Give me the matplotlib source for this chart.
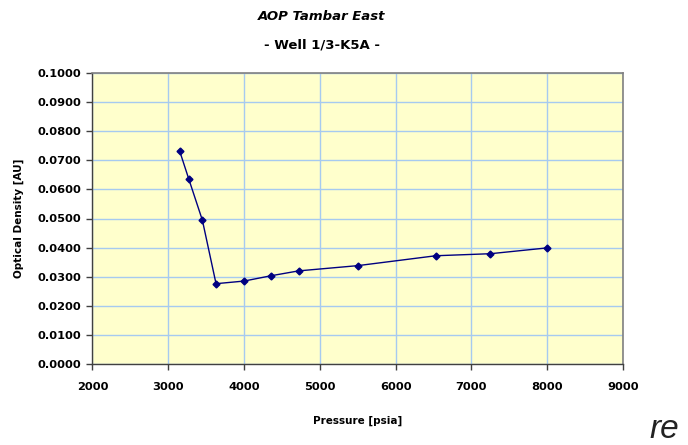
import numpy as np
import matplotlib
matplotlib.use("Agg")
import matplotlib.pyplot as plt

# readings
pressure = [3150, 3270, 3450, 3630, 4000, 4350, 4720, 5500, 6530, 7250, 8000]
optical_density = [0.0732, 0.0636, 0.0494, 0.0276, 0.0285, 0.0303, 0.0320,
                   0.0338, 0.0372, 0.0379, 0.0399]

x_ticks = [2000, 3000, 4000, 5000, 6000, 7000, 8000, 9000]
y_ticks = [0.0, 0.01, 0.02, 0.03, 0.04, 0.05, 0.06, 0.07, 0.08, 0.09, 0.1]

fig = plt.figure(figsize=(6.88, 4.45), dpi=100)
ax = fig.add_axes([92.5 / 688, 1 - 364 / 445, (623 - 92.5) / 688, (364 - 73) / 445])
ax.set_facecolor("#FFFFCC")

ax.plot(pressure, optical_density, color="#000080", linewidth=1.0,
        marker="D", markersize=3.5, markerfacecolor="#000080",
        markeredgecolor="#000080", zorder=3)

ax.set_xlim(2000, 9000)
ax.set_ylim(0, 0.1)
ax.set_xticks(x_ticks)
ax.set_yticks(y_ticks)
ax.set_xticklabels([str(v) for v in x_ticks])
ax.set_yticklabels([f"{v:.4f}" for v in y_ticks])
ax.grid(True, color="#A6CAF0", linewidth=1.0)
ax.set_axisbelow(True)

for side in ["top", "right"]:
    ax.spines[side].set_color("#808080")
    ax.spines[side].set_linewidth(1.2)
for side in ["left", "bottom"]:
    ax.spines[side].set_color("#404040")
    ax.spines[side].set_linewidth(1.0)

ax.tick_params(axis="both", direction="out", length=4, width=1,
               color="#404040", labelsize=8.2, pad=4)
for lab in ax.get_xticklabels() + ax.get_yticklabels():
    lab.set_fontweight("bold")
ax.tick_params(axis="x", pad=9)

ax.set_xlabel("Pressure [psia]", fontsize=7.5, fontweight="bold", labelpad=17)
ax.set_ylabel("Optical Density [AU]", fontsize=7.5, fontweight="bold", labelpad=10)

fig.text(322 / 688, 1 - 17 / 445, "AOP Tambar East", ha="center", va="center",
         fontsize=9.5, fontweight="bold", style="italic")
fig.text(322 / 688, 1 - 45 / 445, "- Well 1/3-K5A -", ha="center", va="center",
         fontsize=9.5, fontweight="bold")

# stray text at the lower right corner of the reference
fig.text(664 / 688, 1 - 429 / 445, "re", ha="center", va="center",
         fontsize=24, style="italic", family="Liberation Sans", color="#222222")

fig.savefig("out.png", dpi=100)
